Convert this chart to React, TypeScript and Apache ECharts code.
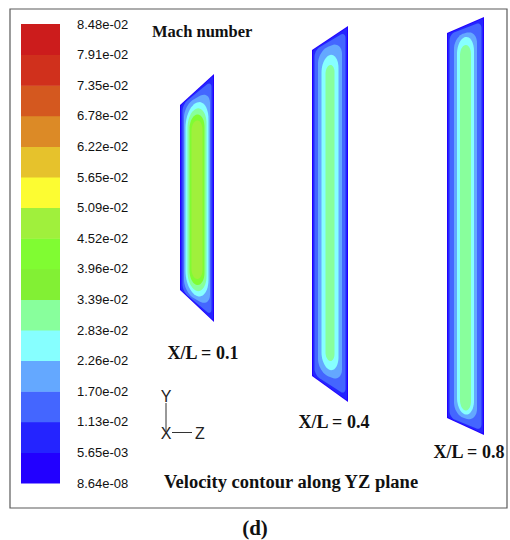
import React, { useEffect, useRef } from 'react';
import * as echarts from 'echarts';

// Colour-bar levels (bottom to top) and band colours
const levelLabels = ['8.64e-08', '5.65e-03', '1.13e-02', '1.70e-02', '2.26e-02', '2.83e-02', '3.39e-02', '3.96e-02', '4.52e-02', '5.09e-02', '5.65e-02', '6.22e-02', '6.78e-02', '7.35e-02', '7.91e-02', '8.48e-02'];
const bandColors = ['#2200ff', '#2424ff', '#4466ff', '#64a8ff', '#86ffff', '#88ff9c', '#82f034', '#80fc32', '#a0f03c', '#fcfc32', '#e6c22c', '#dc8a26', '#d4581f', '#d0301c', '#cc1c1c'];

// Slices (YZ planes) – outline in image units
const sliceNames = ['X/L = 0.1', 'X/L = 0.4', 'X/L = 0.8'];
const sliceZLeft = [180, 312, 447];
const sliceZRight = [214, 348, 484];
const sliceTopLeft = [105, 50, 33];
const sliceTopRight = [74, 26, 17];
const sliceBottomLeft = [290, 376, 418];
const sliceBottomRight = [322, 402, 435];

// Contour levels per slice: band index, side inset, top inset, bottom inset
const slice1Bands = [0, 1, 2, 3, 4, 5, 7, 8];
const slice1Side = [0, 1, 2.5, 4, 5.5, 7.5, 9.5, 11.5];
const slice1Top = [0, 1, 3, 8, 13, 19, 25, 31];
const slice1Bottom = [0, 1, 2.5, 6, 10, 15, 21, 27];

const slice2Bands = [0, 1, 2, 3, 4, 5];
const slice2Side = [0, 1, 2.5, 6, 9.5, 13.5];
const slice2Top = [0, 1, 3, 8, 17, 27];
const slice2Bottom = [0, 1, 4, 12, 19, 28];

const slice3Bands = [0, 1, 2, 3, 4, 5];
const slice3Side = [0, 1, 2.5, 7, 10, 13];
const slice3Top = [0, 1, 3, 8, 12, 20];
const slice3Bottom = [0, 1, 2.5, 8, 12, 16];

const sliceContours = [
  { bands: slice1Bands, side: slice1Side, top: slice1Top, bottom: slice1Bottom },
  { bands: slice2Bands, side: slice2Side, top: slice2Top, bottom: slice2Bottom },
  { bands: slice3Bands, side: slice3Side, top: slice3Top, bottom: slice3Bottom },
];

const layerSlant = [1, 1, 0.9, 0.6, 0.4, 0.25, 0.15, 0.1];
const layerRadius = [0, 1.5, 5, 10, 99, 99, 99, 99];

function layerPolygon(xL: number, xR: number, tl: number, tr: number, bl: number, br: number,
  h: number, t: number, b: number, s: number, rMax: number, ryScale: number) {
  const x0 = xL + h, x1 = xR - h;
  const w = x1 - x0;
  const xc = (xL + xR) / 2;
  const top = (x: number) => tl + (tr - tl) * (x - xL) / (xR - xL);
  const bot = (x: number) => bl + (br - bl) * (x - xL) / (xR - xL);
  const topC = top(xc), botC = bot(xc);
  const yT = (x: number) => topC + s * (top(x) - topC) + t;
  const yB = (x: number) => botC + s * (bot(x) - botC) - b;
  const rx = Math.min(rMax, w / 2);
  const ry = rx * ryScale;
  const pts: number[][] = [];
  const N = 12;
  for (let i = 0; i <= N; i++) {
    const th = (Math.PI / 2) * i / N;
    const x = x0 + rx * (1 - Math.cos(th));
    pts.push([x, yT(x) + ry * (1 - Math.sin(th))]);
  }
  for (let i = N; i >= 0; i--) {
    const th = (Math.PI / 2) * i / N;
    const x = x1 - rx * (1 - Math.cos(th));
    pts.push([x, yT(x) + ry * (1 - Math.sin(th))]);
  }
  for (let i = 0; i <= N; i++) {
    const th = (Math.PI / 2) * i / N;
    const x = x1 - rx * (1 - Math.cos(th));
    pts.push([x, yB(x) - ry * (1 - Math.sin(th))]);
  }
  for (let i = N; i >= 0; i--) {
    const th = (Math.PI / 2) * i / N;
    const x = x0 + rx * (1 - Math.cos(th));
    pts.push([x, yB(x) - ry * (1 - Math.sin(th))]);
  }
  return pts;
}

const serifBold = (size: number) => `bold ${size}px "Liberation Serif", "Times New Roman", serif`;
const sans = (size: number) => `${size}px "Liberation Sans", Arial, sans-serif`;

function txt(text: string, x: number, y: number, font: string, align: string, fill = '#111') {
  return {
    type: 'text', x, y, silent: true,
    style: { text, font, fill, align, verticalAlign: 'middle', textAlign: align, textVerticalAlign: 'middle' },
  };
}

export default function App() {
  const ref = useRef<HTMLDivElement>(null);
  useEffect(() => {
    if (!ref.current) return;
    const chart = echarts.init(ref.current, undefined, { renderer: 'svg' });
    const option: any = {
      animation: false,
      backgroundColor: '#ffffff',
      grid: [
        { left: 0, top: 0, width: 510, height: 540, show: false },
        { left: 21, top: 24, width: 39, height: 459, show: false },
      ],
      xAxis: [
        { gridIndex: 0, type: 'value', min: 0, max: 510, show: false },
        { gridIndex: 1, type: 'value', min: 0, max: 1, show: false },
      ],
      yAxis: [
        { gridIndex: 0, type: 'value', min: 0, max: 540, inverse: true, show: false },
        {
          gridIndex: 1, type: 'value', min: 0, max: 15, interval: 1, position: 'right',
          axisLine: { show: false }, axisTick: { show: false }, splitLine: { show: false },
          axisLabel: {
            margin: 17, fontFamily: '"Liberation Sans", Arial, sans-serif', fontSize: 13, color: '#111',
            padding: [5, 0, 0, 0],
            formatter: (v: number) => levelLabels[Math.round(v)] ?? '',
          },
        },
      ],
      series: [
        {
          type: 'custom', xAxisIndex: 1, yAxisIndex: 1, silent: true,
          data: bandColors.map((_, i) => [i]),
          renderItem: (params: any, api: any) => {
            const i = api.value(0);
            const p0 = api.coord([0, i + 1]);
            const p1 = api.coord([1, i]);
            return {
              type: 'rect',
              shape: { x: p0[0], y: p0[1], width: p1[0] - p0[0], height: p1[1] - p0[1] + 0.5 },
              style: { fill: bandColors[i], stroke: null },
            };
          },
        },
        {
          type: 'custom', xAxisIndex: 0, yAxisIndex: 0, silent: true, clip: false,
          data: sliceNames.map((_, i) => [i]),
          renderItem: (params: any, api: any) => {
            const k = api.value(0);
            const c = sliceContours[k];
            const children = c.bands.map((band, j) => {
              const pts = layerPolygon(
                sliceZLeft[k], sliceZRight[k], sliceTopLeft[k], sliceTopRight[k],
                sliceBottomLeft[k], sliceBottomRight[k],
                c.side[j], c.top[j], c.bottom[j], layerSlant[j], layerRadius[j], j >= 4 ? 1.8 : 1.3,
              ).map((p) => api.coord(p));
              return { type: 'polygon', shape: { points: pts }, style: { fill: bandColors[band], stroke: null } };
            });
            return { type: 'group', children };
          },
        },
      ],
      graphic: [
        {
          type: 'rect', silent: true,
          shape: { x: 10, y: 9, width: 497, height: 499 },
          style: { fill: 'none', stroke: '#5a5a5a', lineWidth: 1.2 },
        },
        txt('Mach number', 152, 31, serifBold(16.5), 'left'),
        txt(sliceNames[0], 203, 353, serifBold(18), 'center'),
        txt(sliceNames[1], 334, 422, serifBold(18), 'center'),
        txt(sliceNames[2], 469, 452, serifBold(18), 'center'),
        txt('Velocity contour along YZ plane', 291, 482, serifBold(18.5), 'center'),
        txt('(d)', 255, 528, serifBold(21), 'center'),
        { type: 'line', silent: true, shape: { x1: 166, y1: 403, x2: 166, y2: 431 }, style: { stroke: '#333', lineWidth: 1 } },
        { type: 'line', silent: true, shape: { x1: 172, y1: 432.5, x2: 192, y2: 432.5 }, style: { stroke: '#333', lineWidth: 1 } },
        txt('Y', 166, 396, sans(16), 'center', '#222'),
        txt('X', 166, 433, sans(16), 'center', '#222'),
        txt('Z', 200, 433, sans(16), 'center', '#222'),
      ],
    };
    chart.setOption(option);
    return () => chart.dispose();
  }, []);
  return <div ref={ref} style={{ position: 'absolute', left: 0, top: 0, width: 510, height: 540 }} />;
}
